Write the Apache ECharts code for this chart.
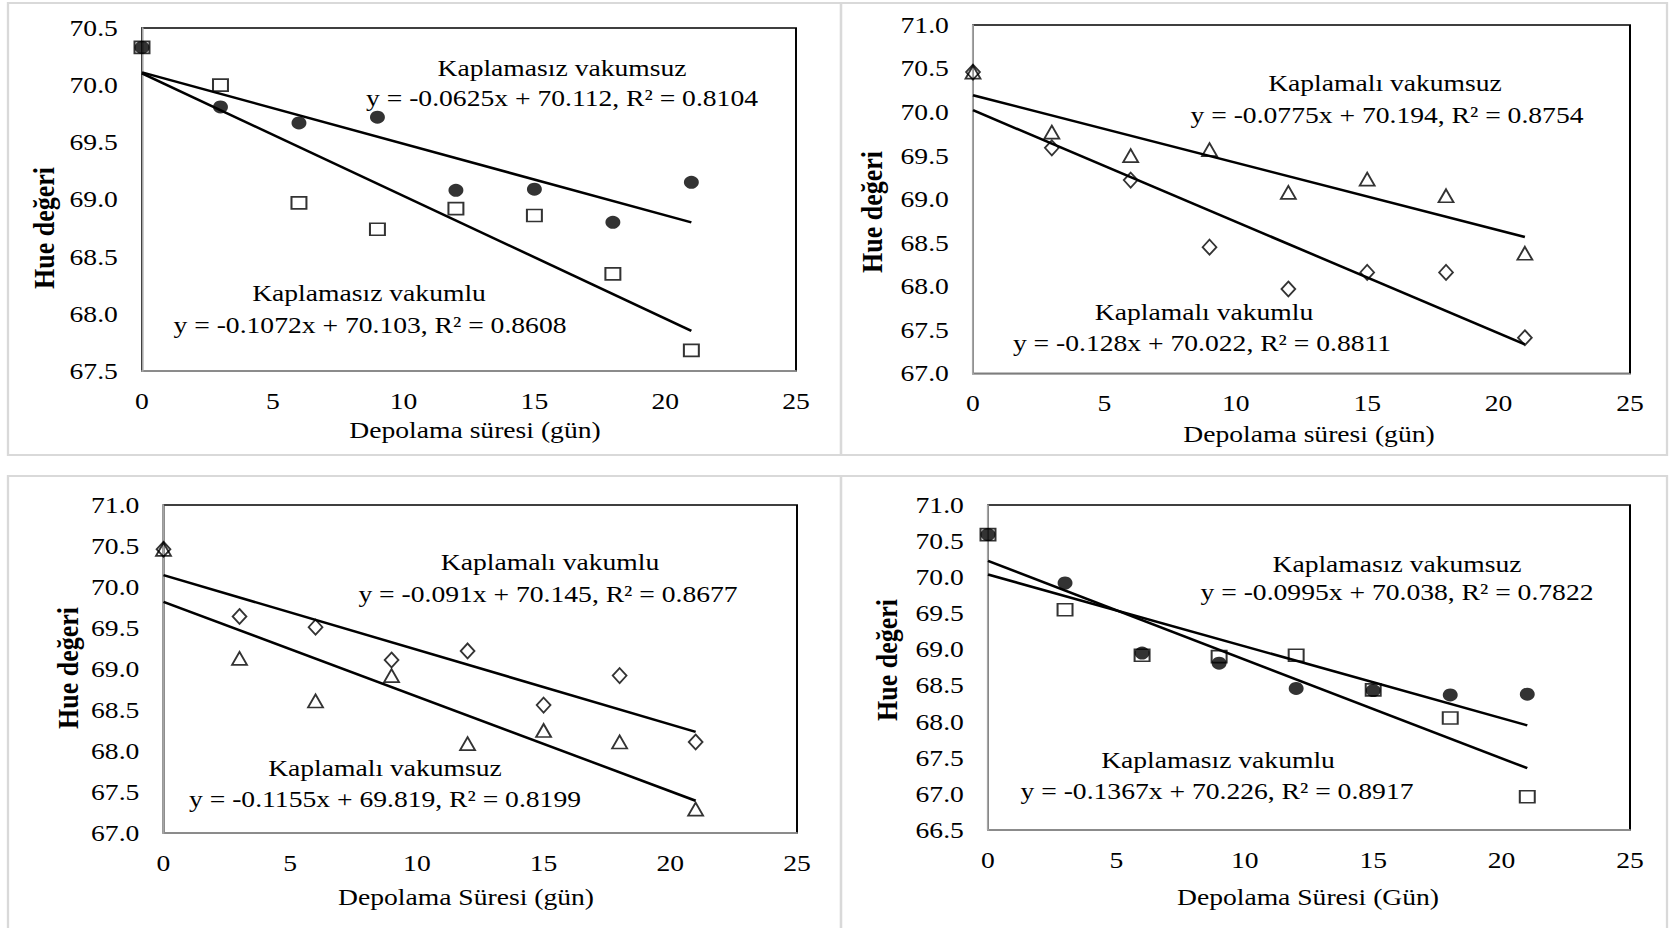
<!DOCTYPE html>
<html>
<head>
<meta charset="utf-8">
<script src="https://cdn.jsdelivr.net/npm/echarts@6.0.0/dist/echarts.min.js"></script>
<style>
  html, body { margin: 0; padding: 0; background: #fff; overflow: hidden; }
  #wrap { width: 1670px; height: 928px; overflow: hidden; position: relative; background: #fff; }
  #chart { position: absolute; left: 0; top: 0; height: 928px; transform-origin: 0 0; }
</style>
</head>
<body>
<div id="wrap"><div id="chart"></div></div>
<script>
// The figure is laid out in a narrower box and widened horizontally as a whole.
const S = 1.15;
const X = v => v / S;

// Storage time (days)
const days = [0, 3, 6, 9, 12, 15, 18, 21];
const xAxisRange = [0, 25, 5];

// Hue values per treatment, one pair per panel
const hueUncoatedNoVacA = [70.33, 69.81, 69.67, 69.72, 69.08, 69.09, 68.80, 69.15];
const hueUncoatedVacA   = [70.33, 70.00, 68.97, 68.74, 68.92, 68.86, 68.35, 67.68];
const hueCoatedNoVacB   = [70.46, 69.77, 69.50, 69.57, 69.08, 69.23, 69.04, 68.38];
const hueCoatedVacB     = [70.46, 69.59, 69.22, 68.45, 67.97, 68.16, 68.16, 67.41];
const hueCoatedVacC     = [70.46, 69.64, 69.51, 69.11, 69.22, 68.56, 68.92, 68.11];
const hueCoatedNoVacC   = [70.46, 69.13, 68.61, 68.92, 68.09, 68.25, 68.11, 67.29];
const hueUncoatedNoVacD = [70.59, 69.92, 68.95, 68.81, 68.46, 68.43, 68.37, 68.38];
const hueUncoatedVacD   = [70.59, 69.55, 68.92, 68.90, 68.92, 68.44, 68.05, 66.96];

const seriesValues = [
  hueUncoatedNoVacA, hueUncoatedVacA,
  hueCoatedNoVacB, hueCoatedVacB,
  hueCoatedVacC, hueCoatedNoVacC,
  hueUncoatedNoVacD, hueUncoatedVacD
];
const seriesNames = [
  'Kaplamasız vakumsuz', 'Kaplamasız vakumlu',
  'Kaplamalı vakumsuz', 'Kaplamalı vakumlu',
  'Kaplamalı vakumlu', 'Kaplamalı vakumsuz',
  'Kaplamasız vakumsuz', 'Kaplamasız vakumlu'
];

// Linear trend lines: y = slope * x + intercept
const slopes     = [-0.0625, -0.1072, -0.0775, -0.128, -0.091, -0.1155, -0.0995, -0.1367];
const intercepts = [70.112, 70.103, 70.194, 70.022, 70.145, 69.819, 70.038, 70.226];
const rSquared   = [0.8104, 0.8608, 0.8754, 0.8811, 0.8677, 0.8199, 0.7822, 0.8917];

// Value axis ranges per panel: [min, max, step]
const yAxisRanges = [[67.5, 70.5, 0.5], [67.0, 71.0, 0.5], [67.0, 71.0, 0.5], [66.5, 71.0, 0.5]];
const xTitles = ['Depolama süresi (gün)', 'Depolama süresi (gün)', 'Depolama Süresi (gün)', 'Depolama Süresi (Gün)'];
const yTitle = 'Hue değeri';

// Marker style per series
const markerKinds = ['dot', 'square', 'triangle', 'diamond', 'diamond', 'triangle', 'dot', 'square'];

// Panel geometry in page pixels
const panels = [
  { plot: [142, 28, 796, 371],   frame: [8, 3, 841, 455],     xt: [475, 430],  yt: [44, 228],
    notes: [[562, 68], [562, 98], [369, 293], [370, 325]] },
  { plot: [973, 25, 1630, 373.5], frame: [841, 3, 1667, 455],  xt: [1309, 434], yt: [872, 212],
    notes: [[1385, 83], [1387, 115], [1204, 312], [1202, 343]] },
  { plot: [163.5, 505, 797, 833], frame: [8, 476, 841, 960],   xt: [466, 897],  yt: [68, 668],
    notes: [[550, 562], [548, 594], [385, 768], [385, 799]] },
  { plot: [988, 505, 1630, 830],  frame: [841, 476, 1667, 960], xt: [1308, 897], yt: [887, 660],
    notes: [[1397, 564], [1397, 592], [1218, 760], [1217, 791]] }
];

const FONT = 'Liberation Serif, Times New Roman, serif';
const FS = 24;

const grid = [], xAxis = [], yAxis = [], series = [], graphic = [];

function markerStyle(kind) {
  const hollow = { color: 'rgba(0,0,0,0)', borderColor: '#000', borderWidth: 1.7 };
  if (kind === 'dot') return { symbol: 'circle', symbolSize: 13, itemStyle: { color: '#000', borderWidth: 0 } };
  if (kind === 'square') return { symbol: 'rect', symbolSize: [13, 12], itemStyle: hollow };
  if (kind === 'triangle') return { symbol: 'triangle', symbolSize: [13, 13], itemStyle: hollow };
  return { symbol: 'diamond', symbolSize: [12, 15], itemStyle: hollow };
}

panels.forEach((p, i) => {
  const [L, T, R, B] = p.plot;
  grid.push({
    left: X(L), top: T, width: X(R - L), height: B - T,
    show: true, borderColor: '#000', borderWidth: 1.7, backgroundColor: 'rgba(0,0,0,0)',
    containLabel: false, outerBoundsMode: 'none'
  });
  const axisCommon = {
    gridIndex: i, type: 'value',
    axisLine: { show: true, onZero: false, lineStyle: { color: '#a6a6a6', width: 1.7 } },
    axisTick: { show: false },
    splitLine: { show: false },
    axisLabel: { color: '#000', fontFamily: FONT, fontSize: FS, margin: 18 }
  };
  xAxis.push(Object.assign({}, axisCommon, {
    min: xAxisRange[0], max: xAxisRange[1], interval: xAxisRange[2]
  }));
  const yr = yAxisRanges[i];
  yAxis.push(Object.assign({}, axisCommon, {
    min: yr[0], max: yr[1], interval: yr[2],
    axisLabel: { color: '#000', fontFamily: FONT, fontSize: FS, margin: 21, formatter: v => v.toFixed(1) }
  }));

  // panel frame
  const [fx0, fy0, fx1, fy1] = p.frame;
  graphic.push({
    type: 'rect', z: -10, silent: true,
    shape: { x: X(fx0), y: fy0, width: X(fx1 - fx0), height: fy1 - fy0 },
    style: { fill: 'none', stroke: '#d9d9d9', lineWidth: 2 }
  });
  // axis titles
  graphic.push({
    type: 'text', x: X(p.xt[0]), y: p.xt[1], silent: true,
    style: { text: xTitles[i], fill: '#000', font: `${FS}px ${FONT}`, align: 'center', verticalAlign: 'middle' }
  });
  graphic.push({
    type: 'text', x: X(p.yt[0]), y: p.yt[1], rotation: Math.PI / 2, silent: true,
    style: { text: yTitle, fill: '#000', font: `bold 26px ${FONT}`, align: 'center', verticalAlign: 'middle' }
  });

  for (let k = 0; k < 2; k++) {
    const s = i * 2 + k;
    const m = markerStyle(markerKinds[s]);
    series.push(Object.assign({
      type: 'scatter', name: seriesNames[s], xAxisIndex: i, yAxisIndex: i,
      data: days.map((d, j) => [d, seriesValues[s][j]]),
      z: 2 + k, silent: true
    }, m));
    const x1 = days[days.length - 1];
    series.push({
      type: 'line', xAxisIndex: i, yAxisIndex: i, showSymbol: false, silent: true, z: 5,
      data: [[days[0], intercepts[s] + slopes[s] * days[0]], [x1, intercepts[s] + slopes[s] * x1]],
      lineStyle: { color: '#000', width: 2.5 }
    });
    const nameAt = p.notes[k * 2], eqAt = p.notes[k * 2 + 1];
    graphic.push({
      type: 'text', x: X(nameAt[0]), y: nameAt[1], silent: true,
      style: { text: seriesNames[s], fill: '#000', font: `${FS}px ${FONT}`, align: 'center', verticalAlign: 'middle' }
    });
    graphic.push({
      type: 'text', x: X(eqAt[0]), y: eqAt[1], silent: true,
      style: { text: `y = ${slopes[s]}x + ${intercepts[s]}, R² = ${rSquared[s]}`, fill: '#000',
               font: `${FS}px ${FONT}`, align: 'center', verticalAlign: 'middle' }
    });
  }
});

const el = document.getElementById('chart');
el.style.width = X(1670) + 'px';
el.style.transform = `scaleX(${S})`;
const chart = echarts.init(el, null, { renderer: 'svg' });
chart.setOption({
  animation: false,
  backgroundColor: 'rgba(0,0,0,0)',
  grid, xAxis, yAxis, series, graphic
});
</script>
</body>
</html>
